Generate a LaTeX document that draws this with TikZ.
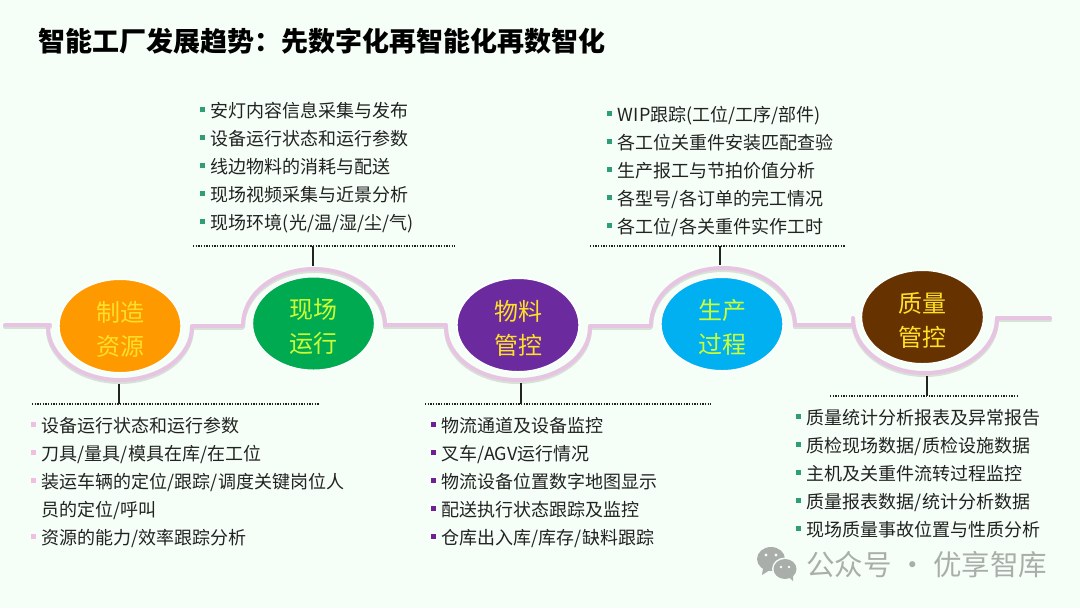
\documentclass[tikz,border=0pt]{standalone}
\usepackage{xcolor}
\usepackage{fontspec}
\setmainfont{Noto Sans CJK SC}
\usetikzlibrary{arrows.meta,positioning,shapes.geometric}
\definecolor{Mint}{RGB}{245,255,247}
\definecolor{Track}{RGB}{231,197,226}
\definecolor{TrackShade}{RGB}{214,226,214}
\definecolor{Ink}{RGB}{34,34,34}
\definecolor{Orange}{RGB}{255,153,0}
\definecolor{Green}{RGB}{0,170,80}
\definecolor{Purple}{RGB}{107,42,158}
\definecolor{Sky}{RGB}{0,176,240}
\definecolor{Brown}{RGB}{102,51,0}
\definecolor{Lemon}{RGB}{255,224,40}
\definecolor{Lime}{RGB}{204,255,51}
\definecolor{BulletGreen}{RGB}{46,158,120}
\definecolor{BulletPink}{RGB}{240,190,225}
\definecolor{BulletPurple}{RGB}{112,32,150}
\definecolor{Mark}{RGB}{170,174,170}
\newcommand{\bul}[1]{\textcolor{#1}{\rule[0.3em]{3.6pt}{3.6pt}}\hspace{4.4pt}}
\newcommand{\lift}{\rule{0pt}{19.5pt}}
\tikzset{
  stage/.style={ellipse,draw=white,line width=1pt,minimum width=91.5pt,minimum height=70pt,inner sep=0pt,align=center,
    font=\fontsize{18pt}{25.5pt}\selectfont},
  itemlist/.style={inner sep=0pt,align=left,text=Ink,font=\fontsize{13.5pt}{21pt}\selectfont},
  track/.style={draw=Track,line width=3pt,line cap=round,line join=round},
  trackshade/.style={draw=TrackShade,line width=3pt,line cap=round,line join=round},
  stem/.style={draw=Ink,line width=1pt},
  rulerow/.style={draw=Ink,line width=1pt,dotted,line cap=butt,dash pattern=on 1pt off 1pt}
}
\begin{document}
\begin{tikzpicture}[x=0.75pt,y=0.75pt]
\useasboundingbox[fill=Mint] (0,0) rectangle (1080,-608);
\node[anchor=west,inner sep=0pt,text=black,font=\fontsize{20.25pt}{24pt}\selectfont\bfseries] (title) at (38,-41) {智能工厂发展趋势：先数字化再智能化再数智化};
% track behind the stages
\foreach \dy/\sty in {-1.5/trackshade,0/track}{
\draw[\sty,yshift=\dy] (5,-325) -- (50,-325);
\draw[\sty,yshift=\dy] (48,-327) arc[start angle=180,end angle=360,x radius=72,y radius=53];
\draw[\sty,yshift=\dy] (192,-326) -- (242,-326);
\draw[\sty,yshift=\dy] (243,-325) arc[start angle=180,end angle=0,x radius=71,y radius=56];
\draw[\sty,yshift=\dy] (385,-325) -- (446,-325);
\draw[\sty,yshift=\dy] (446,-327) arc[start angle=180,end angle=360,x radius=72,y radius=53];
\draw[\sty,yshift=\dy] (590,-326) -- (650,-326);
\draw[\sty,yshift=\dy] (651,-325) arc[start angle=180,end angle=0,x radius=72,y radius=57];
\draw[\sty,yshift=\dy] (795,-325) -- (851,-325);
\draw[\sty,yshift=\dy] (853,-318) arc[start angle=180,end angle=360,x radius=72,y radius=55];
\draw[\sty,yshift=\dy] (997,-318) -- (1050,-318);
}
% stages
\node[stage,fill=Orange,text=Lemon] (supply) at (120,-326) {\lift 制造\\资源};
\node[stage,fill=Green,text=Lime] (site) at (313.5,-323.5) {\lift 现场\\运行};
\node[stage,fill=Purple,text=Lemon] (logistics) at (518,-325) {\lift 物料\\管控};
\node[stage,fill=Sky,text=Lime] (process) at (722,-324) {\lift 生产\\过程};
\node[stage,fill=Brown,text=Lemon] (quality) at (922.5,-317) {\lift 质量\\管控};
% dotted rules
\coordinate (ruleA1) at (32,-404); \coordinate (ruleA2) at (320,-404);
\coordinate (ruleB1) at (193,-246); \coordinate (ruleB2) at (455,-246);
\coordinate (ruleC1) at (425,-404); \coordinate (ruleC2) at (711,-404);
\coordinate (ruleD1) at (590,-246); \coordinate (ruleD2) at (846,-246);
\coordinate (ruleE1) at (830,-396); \coordinate (ruleE2) at (1018,-396);
\draw[rulerow] (ruleA1) -- (ruleA2);
\draw[rulerow] (ruleB1) -- (ruleB2);
\draw[rulerow] (ruleC1) -- (ruleC2);
\draw[rulerow] (ruleD1) -- (ruleD2);
\draw[rulerow] (ruleE1) -- (ruleE2);
% stems
\coordinate (stemA) at (119,-384); \coordinate (stemB) at (313,-266);
\coordinate (stemC) at (521,-383); \coordinate (stemD) at (720,-265);
\coordinate (stemE) at (927,-376);
\draw[stem] (stemA) -- (stemA|-ruleA1);
\draw[stem] (stemB) -- (stemB|-ruleB1);
\draw[stem] (stemC) -- (stemC|-ruleC1);
\draw[stem] (stemD) -- (stemD|-ruleD1);
\draw[stem] (stemE) -- (stemE|-ruleE1);
% item lists
\node[itemlist,anchor=north west] (listA) at (31,-417) {\bul{BulletPink}设备运行状态和运行参数\\\bul{BulletPink}刀具/量具/模具在库/在工位\\\bul{BulletPink}装运车辆的定位/跟踪/调度关键岗位人\\\hspace{8pt}员的定位/呼叫\\\bul{BulletPink}资源的能力/效率跟踪分析};
\node[itemlist,anchor=north west] (listB) at (200,-102) {\bul{BulletGreen}安灯内容信息采集与发布\\\bul{BulletGreen}设备运行状态和运行参数\\\bul{BulletGreen}线边物料的消耗与配送\\\bul{BulletGreen}现场视频采集与近景分析\\\bul{BulletGreen}现场环境(光/温/湿/尘/气)};
\node[itemlist,anchor=north west] (listC) at (431,-417) {\bul{BulletPurple}物流通道及设备监控\\\bul{BulletPurple}叉车/AGV运行情况\\\bul{BulletPurple}物流设备位置数字地图显示\\\bul{BulletPurple}配送执行状态跟踪及监控\\\bul{BulletPurple}仓库出入库/库存/缺料跟踪};
\node[itemlist,anchor=north west] (listD) at (607,-106) {\bul{BulletGreen}WIP跟踪(工位/工序/部件)\\\bul{BulletGreen}各工位关重件安装匹配查验\\\bul{BulletGreen}生产报工与节拍价值分析\\\bul{BulletGreen}各型号/各订单的完工情况\\\bul{BulletGreen}各工位/各关重件实作工时};
\node[itemlist,anchor=north west] (listE) at (796,-409) {\bul{BulletGreen}质量统计分析报表及异常报告\\\bul{BulletGreen}质检现场数据/质检设施数据\\\bul{BulletGreen}主机及关重件流转过程监控\\\bul{BulletGreen}质量报表数据/统计分析数据\\\bul{BulletGreen}现场质量事故位置与性质分析};
% account mark
\fill[Mark] (771,-559) ellipse[x radius=14,y radius=12];
\fill[Mark] (763,-568) -- (762,-575) -- (770,-570) -- cycle;
\fill[Mint] (785,-569) ellipse[x radius=13,y radius=11.5];
\fill[Mark] (785,-569) ellipse[x radius=11.5,y radius=10];
\fill[Mark] (789,-577) -- (793,-581) -- (793,-574) -- cycle;
\fill[Mint] (766,-555) circle (1.6) (776,-555) circle (1.6) (781,-567) circle (1.3) (789,-567) circle (1.3);
\node[anchor=west,inner sep=0pt,text=Mark,font=\fontsize{21.4pt}{24pt}\selectfont] (account) at (806,-565) {公众号 · 优享智库};
\end{tikzpicture}
\end{document}
